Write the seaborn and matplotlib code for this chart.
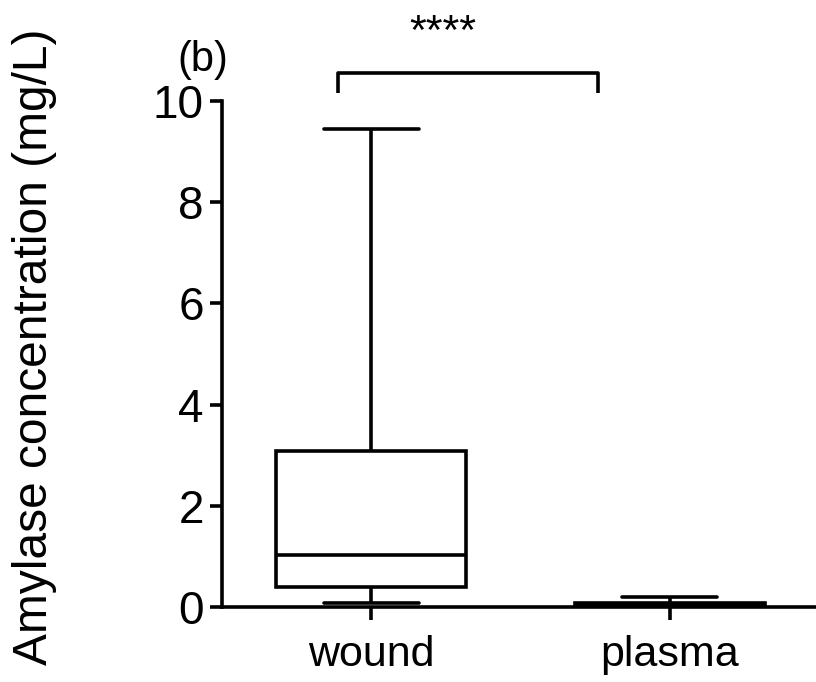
import pandas as pd
import matplotlib.pyplot as plt
import seaborn as sns

# five-number summaries (min, q1, median, q3, max)
groups = ['wound', 'plasma']
wound = [0.08, 0.40, 1.03, 3.08, 9.45]
plasma = [0.0, 0.01, 0.03, 0.07, 0.20]
yticks = [0, 2, 4, 6, 8, 10]

df = pd.DataFrame({
    'group': ['wound'] * len(wound) + ['plasma'] * len(plasma),
    'value': wound + plasma,
})

sns.set_style('ticks')
plt.rcParams['font.family'] = ['Liberation Sans', 'DejaVu Sans']
plt.rcParams.update({'text.color': 'black', 'axes.labelcolor': 'black',
                     'xtick.color': 'black', 'ytick.color': 'black',
                     'axes.edgecolor': 'black'})

fig = plt.figure(figsize=(8.16, 6.82), dpi=100)
ax = fig.add_axes([0.272, 0.11, 0.728, 0.742])

lw = 2.6
sns.boxplot(data=df, x='group', y='value', order=groups, whis=(0, 100),
            width=0.635, color='white', linecolor='black', linewidth=lw, ax=ax)

ax.set_xlim(-0.5, 1.49)
ax.set_ylim(0, 10)
ax.set_yticks(yticks)
ax.set_xlabel('')
ax.set_ylabel('Amylase concentration (mg/L)', fontsize=34.5)
ax.yaxis.set_label_coords(-0.277, 0.515)
ax.tick_params(axis='both', width=lw, length=9, color='black')
ax.tick_params(axis='x', labelsize=31, pad=11)
ax.tick_params(axis='y', labelsize=33, pad=4)
for s in ['top', 'right']:
    ax.spines[s].set_visible(False)
for s in ['left', 'bottom']:
    ax.spines[s].set_linewidth(lw)

# significance bracket
ax.plot([-0.11, -0.11, 0.76, 0.76], [10.16, 10.55, 10.55, 10.16],
        color='black', lw=lw, clip_on=False, solid_capstyle='butt')
ax.text(0.24, 11.35, '****', ha='center', va='center', fontsize=31)
fig.text(0.249, 0.912, '(b)', ha='center', va='center', fontsize=30)

fig.savefig('out.png', dpi=100)
